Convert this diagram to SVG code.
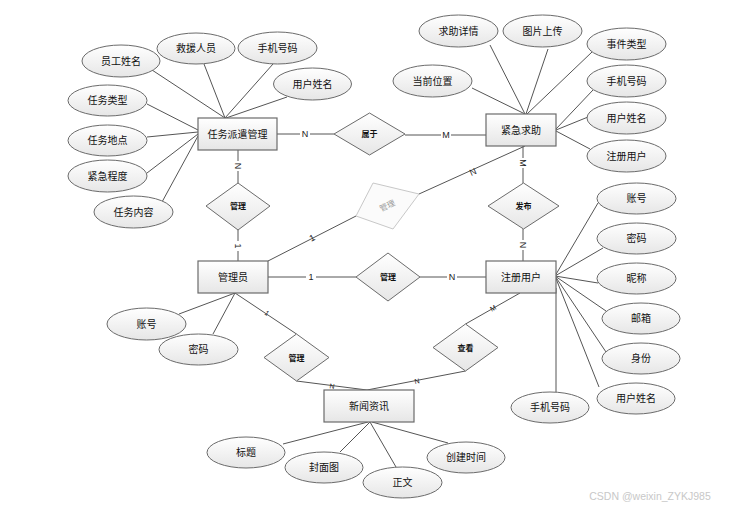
<svg xmlns="http://www.w3.org/2000/svg" width="737" height="509" viewBox="0 0 737 509">
<defs>
<linearGradient id="g" x1="0" y1="0" x2="0" y2="1"><stop offset="0" stop-color="#ffffff"/><stop offset="1" stop-color="#e6e6e6"/></linearGradient>
<style>
.ent{fill:url(#g);stroke:#6b6b6b;stroke-width:1.2}
.att{fill:url(#g);stroke:#6b6b6b;stroke-width:1}
.rel{fill:url(#g);stroke:#6b6b6b;stroke-width:1}
.t{font-family:"Liberation Sans","Noto Sans CJK SC",sans-serif;font-size:10px;fill:#111;text-anchor:middle;dominant-baseline:central}
.s{font-family:"Liberation Sans","Noto Sans CJK SC",sans-serif;font-size:8px;fill:#111;text-anchor:middle;dominant-baseline:central;font-weight:bold}
.l{font-family:"Liberation Sans","Noto Sans CJK SC",sans-serif;font-size:9px;fill:#222;text-anchor:middle;dominant-baseline:central}
.c line,.c polyline{stroke:#555;stroke-width:1;fill:none}
.lb{fill:#fff}
</style>
</defs>
<rect width="737" height="509" fill="#fff"/>
<g class="c" id="connectors">
<line x1="152" y1="70" x2="225" y2="118"/>
<line x1="204" y1="64" x2="225" y2="118"/>
<line x1="273" y1="64" x2="225" y2="118"/>
<line x1="287" y1="97" x2="226" y2="118"/>
<line x1="147" y1="104" x2="198" y2="130"/>
<line x1="147" y1="137" x2="198" y2="132"/>
<line x1="147" y1="173" x2="198" y2="134"/>
<line x1="162" y1="202" x2="198" y2="136"/>
<line x1="472" y1="88" x2="525" y2="114"/>
<line x1="490" y1="45" x2="525" y2="114"/>
<line x1="548" y1="49" x2="526" y2="114"/>
<line x1="592" y1="52" x2="527" y2="114"/>
<line x1="593" y1="90" x2="556" y2="129"/>
<line x1="588" y1="117" x2="556" y2="130"/>
<line x1="590" y1="149" x2="556" y2="131"/>
<line x1="277" y1="134" x2="334" y2="134"/>
<line x1="405" y1="135" x2="486" y2="135"/>
<line x1="238" y1="150" x2="238" y2="183"/>
<line x1="238" y1="230" x2="238" y2="261"/>
<line x1="268" y1="261" x2="356" y2="216"/>
<line x1="419" y1="194" x2="525" y2="146"/>
<line x1="523" y1="146" x2="523" y2="183"/>
<line x1="523" y1="229" x2="523" y2="261"/>
<line x1="268" y1="277" x2="356" y2="277"/>
<line x1="420" y1="277" x2="486" y2="277"/>
<line x1="235" y1="293" x2="296.5" y2="334"/>
<line x1="296.5" y1="381" x2="367" y2="390"/>
<line x1="465.5" y1="324" x2="520" y2="293"/>
<line x1="465.5" y1="371" x2="367" y2="390"/>
<line x1="555" y1="276" x2="598" y2="203"/>
<line x1="555" y1="276" x2="603" y2="248"/>
<line x1="555" y1="276" x2="598" y2="283"/>
<line x1="555" y1="276" x2="606" y2="311"/>
<line x1="555" y1="276" x2="606" y2="352"/>
<line x1="555" y1="276" x2="599" y2="387"/>
<line x1="556" y1="288" x2="556" y2="392"/>
<line x1="235" y1="293" x2="179" y2="314"/>
<line x1="235" y1="293" x2="213" y2="334"/>
<line x1="368" y1="422" x2="283" y2="444"/>
<line x1="370" y1="422" x2="340" y2="452"/>
<line x1="370" y1="422" x2="396" y2="467"/>
<line x1="372" y1="422" x2="448" y2="443"/>
</g>
<g id="edge-labels">
<rect class="lb" x="300" y="128" width="10" height="12"/><text class="l" x="305" y="134">N</text>
<rect class="lb" x="441" y="129" width="10" height="12"/><text class="l" x="446" y="135">M</text>
<rect class="lb" x="232" y="161" width="12" height="10"/><text class="l" transform="translate(238,166) rotate(90)">N</text>
<rect class="lb" x="232" y="241" width="12" height="10"/><text class="l" transform="translate(238,246) rotate(90)">1</text>
<text class="l" transform="translate(312,238) rotate(-27)">1</text>
<text class="l" transform="translate(473,172) rotate(-24)">N</text>
<rect class="lb" x="517" y="158" width="12" height="10"/><text class="l" transform="translate(523,163) rotate(90)">M</text>
<rect class="lb" x="517" y="240" width="12" height="10"/><text class="l" transform="translate(523,245) rotate(90)">N</text>
<rect class="lb" x="306" y="271" width="10" height="12"/><text class="l" x="311" y="277">1</text>
<rect class="lb" x="447" y="271" width="10" height="12"/><text class="l" x="452" y="277">N</text>
<text class="l" style="font-size:7px" transform="translate(267,313) rotate(34)">1</text>
<text class="l" style="font-size:7px" transform="translate(332,386) rotate(7)">N</text>
<text class="l" style="font-size:7px" transform="translate(493,308) rotate(-30)">M</text>
<text class="l" style="font-size:7px" transform="translate(417,381) rotate(-11)">N</text>
</g>
<g id="e-renwu"><rect class="ent" x="198" y="118" width="79" height="32"/><text class="t" x="237.5" y="134">任务派遣管理</text></g>
<g id="e-jinji"><rect class="ent" x="486" y="114" width="70" height="32"/><text class="t" x="521" y="130">紧急求助</text></g>
<g id="e-admin"><rect class="ent" x="198" y="261" width="70" height="32"/><text class="t" x="233" y="277">管理员</text></g>
<g id="e-user"><rect class="ent" x="486" y="261" width="70" height="32"/><text class="t" x="521" y="277">注册用户</text></g>
<g id="e-news"><rect class="ent" x="324" y="390" width="90" height="32"/><text class="t" x="369" y="406">新闻资讯</text></g>
<g id="r-shuyu"><polygon class="rel" points="334,134 369.5,113 405,134 369.5,155"/><text class="s" x="369.5" y="134">属于</text></g>
<g id="r-guanli1"><polygon class="rel" points="206,206 238,183 270,206 238,230"/><text class="s" x="238" y="206">管理</text></g>
<g id="r-guanli2"><polygon points="356,216 373,183 419,194 393,229" fill="#fbfbfb" stroke="#c8c8c8" stroke-width="1"/><text class="s" style="fill:#999;font-weight:normal" transform="translate(387.5,206) rotate(-25)">管理</text></g>
<g id="r-guanli3"><polygon class="rel" points="356,277 388,253 420,277 388,301"/><text class="s" x="388" y="277">管理</text></g>
<g id="r-fabu"><polygon class="rel" points="488,206 523.5,183 559,206 523.5,229"/><text class="s" x="523.5" y="206">发布</text></g>
<g id="r-guanli4"><polygon class="rel" points="264,357.5 296.5,334 329,357.5 296.5,381"/><text class="s" x="296.5" y="358">管理</text></g>
<g id="r-chakan"><polygon class="rel" points="433,347.5 465.5,324 498,347.5 465.5,371"/><text class="s" x="465.5" y="348">查看</text></g>
<g id="a1"><ellipse class="att" cx="121" cy="61" rx="39" ry="16"/><text class="t" x="121" y="61">员工姓名</text></g>
<g id="a2"><ellipse class="att" cx="196" cy="48.5" rx="39" ry="15.5"/><text class="t" x="196" y="48.5">救援人员</text></g>
<g id="a3"><ellipse class="att" cx="277.5" cy="48" rx="39.5" ry="16"/><text class="t" x="277.5" y="48">手机号码</text></g>
<g id="a4"><ellipse class="att" cx="312.5" cy="84" rx="39" ry="16"/><text class="t" x="312.5" y="84">用户姓名</text></g>
<g id="a5"><ellipse class="att" cx="107.5" cy="100.5" rx="39.5" ry="15.5"/><text class="t" x="107.5" y="100.5">任务类型</text></g>
<g id="a6"><ellipse class="att" cx="107.5" cy="140.5" rx="39.5" ry="15.5"/><text class="t" x="107.5" y="140.5">任务地点</text></g>
<g id="a7"><ellipse class="att" cx="107.5" cy="176" rx="39.5" ry="16"/><text class="t" x="107.5" y="176">紧急程度</text></g>
<g id="a8"><ellipse class="att" cx="133.5" cy="212" rx="39.5" ry="16"/><text class="t" x="133.5" y="212">任务内容</text></g>
<g id="b1"><ellipse class="att" cx="458.5" cy="31" rx="39.5" ry="16"/><text class="t" x="458.5" y="31">求助详情</text></g>
<g id="b2"><ellipse class="att" cx="542.5" cy="31" rx="39.5" ry="16"/><text class="t" x="542.5" y="31">图片上传</text></g>
<g id="b3"><ellipse class="att" cx="626.5" cy="44" rx="39.5" ry="16"/><text class="t" x="626.5" y="44">事件类型</text></g>
<g id="b4"><ellipse class="att" cx="432.5" cy="81" rx="39.5" ry="16"/><text class="t" x="432.5" y="81">当前位置</text></g>
<g id="b5"><ellipse class="att" cx="626.5" cy="81" rx="39.5" ry="16"/><text class="t" x="626.5" y="81">手机号码</text></g>
<g id="b6"><ellipse class="att" cx="626.5" cy="118" rx="39.5" ry="16"/><text class="t" x="626.5" y="118">用户姓名</text></g>
<g id="b7"><ellipse class="att" cx="626.5" cy="156" rx="39.5" ry="16"/><text class="t" x="626.5" y="156">注册用户</text></g>
<g id="c1"><ellipse class="att" cx="636.5" cy="198.5" rx="39.5" ry="15.5"/><text class="t" x="636.5" y="198.5">账号</text></g>
<g id="c2"><ellipse class="att" cx="636.5" cy="238.5" rx="39.5" ry="15.5"/><text class="t" x="636.5" y="238.5">密码</text></g>
<g id="c3"><ellipse class="att" cx="636.5" cy="278.5" rx="39.5" ry="15.5"/><text class="t" x="636.5" y="278.5">昵称</text></g>
<g id="c4"><ellipse class="att" cx="641" cy="318.5" rx="39" ry="15.5"/><text class="t" x="641" y="318.5">邮箱</text></g>
<g id="c5"><ellipse class="att" cx="641" cy="358.5" rx="39" ry="15.5"/><text class="t" x="641" y="358.5">身份</text></g>
<g id="c6"><ellipse class="att" cx="636" cy="398.5" rx="39" ry="15.5"/><text class="t" x="636" y="398.5">用户姓名</text></g>
<g id="c7"><ellipse class="att" cx="550" cy="407.5" rx="39" ry="15.5"/><text class="t" x="550" y="407.5">手机号码</text></g>
<g id="d1"><ellipse class="att" cx="146.5" cy="324" rx="39.5" ry="16"/><text class="t" x="146.5" y="324">账号</text></g>
<g id="d2"><ellipse class="att" cx="198.5" cy="349.5" rx="39.5" ry="15.5"/><text class="t" x="198.5" y="349.5">密码</text></g>
<g id="n1"><ellipse class="att" cx="246" cy="452.5" rx="39" ry="15.5"/><text class="t" x="246" y="452.5">标题</text></g>
<g id="n2"><ellipse class="att" cx="324" cy="467.5" rx="39" ry="15.5"/><text class="t" x="324" y="467.5">封面图</text></g>
<g id="n3"><ellipse class="att" cx="402.5" cy="482.5" rx="39.5" ry="15.5"/><text class="t" x="402.5" y="482.5">正文</text></g>
<g id="n4"><ellipse class="att" cx="466" cy="457.5" rx="39" ry="15.5"/><text class="t" x="466" y="457.5">创建时间</text></g>
<text x="650" y="496" style="font-family:'Liberation Sans',sans-serif;font-size:10.5px;fill:#c8c8c8;text-anchor:middle;dominant-baseline:central">CSDN @weixin_ZYKJ985</text>
</svg>
